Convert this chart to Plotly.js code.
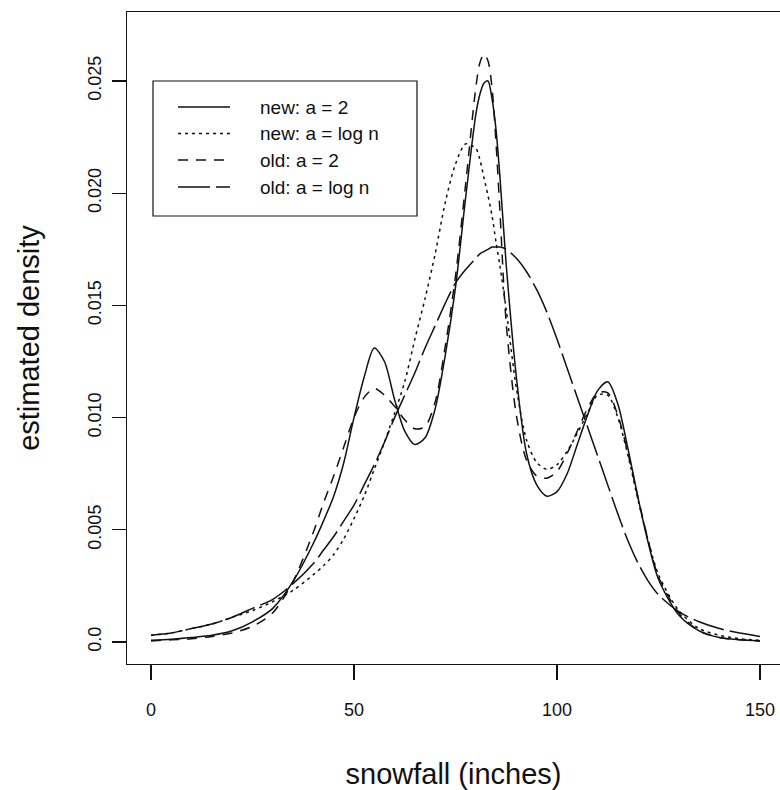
<!DOCTYPE html>
<html>
<head>
<meta charset="utf-8">
<script src="https://cdn.plot.ly/plotly-3.0.1.min.js"></script>
<style>
  html, body { margin: 0; padding: 0; background: #ffffff; }
  #chart { width: 780px; height: 790px; }
</style>
</head>
<body>
<div id="chart"></div>
<script>
// ---------------- data ----------------
const snowfall = [0, 5, 10, 15, 20, 25, 30, 35, 40,
  42.5, 45, 47.5, 50, 52.5, 55, 57.5, 60, 62.5, 65, 67.5, 70, 72.5, 75, 77.5, 80,
  81, 82, 83, 84, 85, 86,
  87.5, 90, 92.5, 95, 97.5, 100, 102.5, 105, 107.5, 110, 112.5, 115, 117.5, 120, 122.5, 125,
  130, 135, 140, 145, 150];

const newA2 = [0.00008, 0.00012, 0.0002, 0.0003, 0.0005, 0.0009, 0.0015, 0.0027, 0.0044,
  0.0054, 0.0065, 0.0080, 0.0100, 0.0118, 0.0131, 0.0125, 0.0108, 0.0094, 0.0088, 0.0091, 0.0104, 0.0128, 0.0158, 0.0198, 0.0235,
  0.0244, 0.0249, 0.0250, 0.0242, 0.0228, 0.0206,
  0.0168, 0.0118, 0.0084, 0.0070, 0.0065, 0.0067, 0.0075, 0.0088, 0.0101, 0.0112, 0.0116, 0.0106, 0.0086, 0.0064, 0.0044, 0.0028,
  0.0012, 0.0005, 0.0002, 0.0001, 0.00005];

const newLogN = [0.0003, 0.0004, 0.0006, 0.0008, 0.0011, 0.0014, 0.0018, 0.0023, 0.0030,
  0.0034, 0.0039, 0.0046, 0.0055, 0.0065, 0.0077, 0.0089, 0.0102, 0.0116, 0.0135, 0.0153, 0.0173, 0.0196, 0.0213, 0.0222, 0.0220,
  0.0215, 0.0207, 0.0199, 0.0190, 0.0178, 0.0167,
  0.0148, 0.0113, 0.0090, 0.0080, 0.0077, 0.0079, 0.0085, 0.0093, 0.0102, 0.0110, 0.0110, 0.0100, 0.0083, 0.0063, 0.0045, 0.0030,
  0.0014, 0.0006, 0.0003, 0.00015, 0.00008];

const oldA2 = [0.00005, 0.0001, 0.00015, 0.00025, 0.0004, 0.0007, 0.0013, 0.0027, 0.0049,
  0.0062, 0.0074, 0.0087, 0.0100, 0.0109, 0.0113, 0.0110, 0.0105, 0.0099, 0.0095, 0.0096, 0.0107, 0.0132, 0.0163, 0.0204, 0.0247,
  0.0258, 0.0262, 0.0259, 0.0247, 0.0222, 0.0190,
  0.0142, 0.0101, 0.0081, 0.0074, 0.0073, 0.0076, 0.0084, 0.0094, 0.0104, 0.0111, 0.0111, 0.0101, 0.0084, 0.0064, 0.0045, 0.0029,
  0.0013, 0.0005, 0.0002, 0.0001, 0.00005];

const oldLogN = [0.0003, 0.0004, 0.0006, 0.0008, 0.0011, 0.0015, 0.0019, 0.0026, 0.0035,
  0.0041, 0.0047, 0.0054, 0.0061, 0.0070, 0.0079, 0.0089, 0.0100, 0.0110, 0.0120, 0.0131, 0.0141, 0.0151, 0.0160, 0.0166, 0.0171,
  0.0173, 0.0174, 0.0175, 0.0176, 0.0176, 0.0176,
  0.0175, 0.0171, 0.0165, 0.0157, 0.0147, 0.0135, 0.0122, 0.0109, 0.0096, 0.0083, 0.0070, 0.0057, 0.0045, 0.0035, 0.0027, 0.0021,
  0.00135, 0.0009, 0.0006, 0.0004, 0.00025];

const seriesNames = ["new: a = 2", "new: a = log n", "old: a = 2", "old: a = log n"];
const xTickVals = [0, 50, 100, 150];
const xTickText = ["0", "50", "100", "150"];
const yTickVals = [0, 0.005, 0.010, 0.015, 0.020, 0.025];
const yTickText = ["0.0", "0.005", "0.010", "0.015", "0.020", "0.025"];
const xTitle = "snowfall (inches)";
const yTitle = "estimated density";

// ---------------- styling ----------------
const FONT = '"Liberation Sans", Arial, Helvetica, sans-serif';
const INK = '#111111';
const LW = 1.5;
const dashes = ['solid', '3px,4px', '10px,8px', '32px,6px'];
const seriesY = [newA2, newLogN, oldA2, oldLogN];

const traces = seriesY.map((ys, i) => ({
  type: 'scatter',
  mode: 'lines',
  name: seriesNames[i],
  x: snowfall,
  y: ys,
  line: { color: INK, width: LW, dash: dashes[i], shape: 'spline', smoothing: 0.8 },
  showlegend: false,
  hoverinfo: 'skip'
}));

// plot area in pixels
const L = 127, T = 12, W = 653, H = 652;
const px = v => (v - L) / W;           // pixel x -> paper x
const py = v => (T + H - v) / H;       // pixel y -> paper y

// hand-drawn legend box (R style)
const legRows = [107, 133.5, 160, 187];
const shapes = [{
  type: 'rect', xref: 'paper', yref: 'paper',
  x0: px(153), x1: px(417), y0: py(216), y1: py(81),
  line: { color: INK, width: 1.2 }, fillcolor: 'rgba(0,0,0,0)'
}];
const annotations = [];
seriesNames.forEach((nm, i) => {
  shapes.push({
    type: 'line', xref: 'paper', yref: 'paper',
    x0: px(178), x1: px(230), y0: py(legRows[i]), y1: py(legRows[i]),
    line: { color: INK, width: LW, dash: dashes[i] }
  });
  annotations.push({
    xref: 'paper', yref: 'paper', x: px(258), y: py(legRows[i]),
    xanchor: 'left', yanchor: 'middle', showarrow: false,
    text: nm, font: { family: FONT, size: 19, color: INK }
  });
});

const layout = {
  width: 780, height: 790,
  margin: { l: L, r: 780 - L - W, t: T, b: 790 - T - H, pad: 0 },
  paper_bgcolor: '#ffffff', plot_bgcolor: '#ffffff',
  font: { family: FONT, color: INK },
  showlegend: false,
  xaxis: {
    range: [-5.91, 154.93],
    tickvals: xTickVals, ticktext: xTickText,
    ticks: 'outside', ticklen: 15, tickwidth: 1.2, tickcolor: INK,
    ticklabelstandoff: 14,
    showline: true, mirror: true, linecolor: INK, linewidth: 1.2,
    showgrid: false, zeroline: false,
    tickfont: { family: FONT, size: 18, color: INK },
    title: { text: xTitle, font: { family: FONT, size: 29, color: INK }, standoff: 46 }
  },
  yaxis: {
    range: [-0.00098, 0.028075],
    tickvals: yTickVals, ticktext: yTickText,
    tickangle: -90,
    ticks: 'outside', ticklen: 14, tickwidth: 1.2, tickcolor: INK,
    ticklabelstandoff: 4,
    showline: true, mirror: true, linecolor: INK, linewidth: 1.2,
    showgrid: false, zeroline: false,
    tickfont: { family: FONT, size: 18, color: INK },
    title: { text: yTitle, font: { family: FONT, size: 29, color: INK }, standoff: 36 }
  },
  shapes: shapes,
  annotations: annotations
};

Plotly.newPlot('chart', traces, layout, { staticPlot: true, displayModeBar: false });
</script>
</body>
</html>
